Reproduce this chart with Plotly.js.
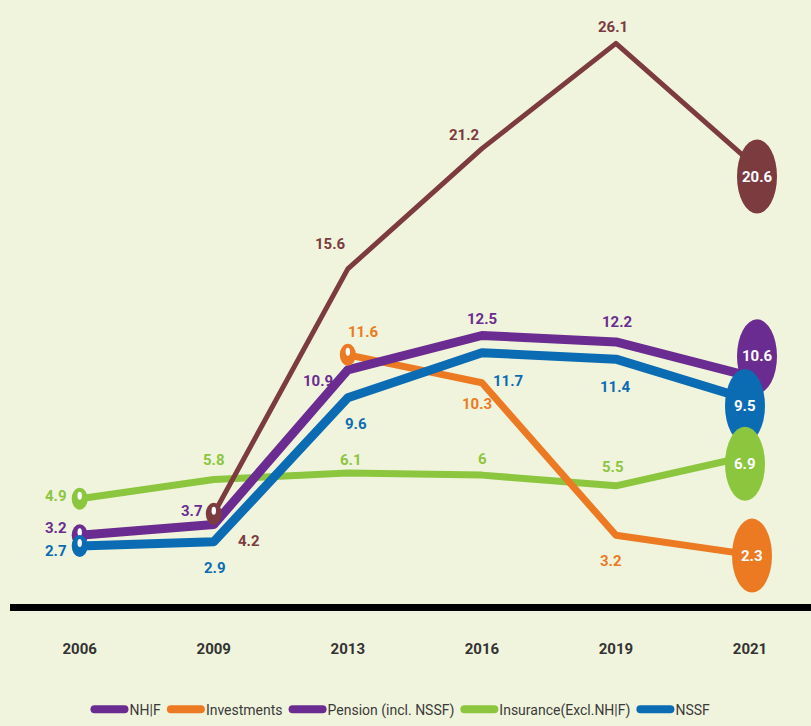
<!DOCTYPE html>
<html><head><meta charset="utf-8">
<script src="https://cdn.plot.ly/plotly-3.0.1.min.js"></script>
<style>
html,body{margin:0;padding:0;background:#f1f4dc;}
.scatterlayer path.js-line{stroke-linejoin:round;stroke-linecap:round;}
.legend path.js-line{stroke-linecap:round;}
</style>
</head><body>
<div id="chart" style="width:811px;height:726px;"></div>
<script>
// ---- data ----
const years = ['2006','2009','2013','2016','2019','2021'];
const nhif = [3.2, 3.7, 10.9, 12.5, 12.2, 10.6];
const investments = [null, null, 11.6, 10.3, 3.2, 2.3];
const pension = [null, 4.2, 15.6, 21.2, 26.1, 20.6];
const insurance = [4.9, 5.8, 6.1, 6, 5.5, 6.9];
const nssf = [2.7, 2.9, 9.6, 11.7, 11.4, 9.5];
const legendNames = ['NH|F', 'Investments', 'Pension (incl. NSSF)', 'Insurance(Excl.NH|F)', 'NSSF'];

// ---- styles ----
const C = {brown:'#7b3b3f', purple:'#6b2c91', orange:'#ec7a23', green:'#8cc63f', blue:'#0b6cb4'};
const FONT = 'Roboto, "Liberation Sans Narrow", sans-serif';

// label pixel offsets [dx, dy(down positive)] per point
const series = [
  {key:'green', vals:insurance, color:C.green, width:7,
   offs:[[-24,-3],[0,-19],[3,-13],[1,-16],[-3,-19]], end:[-5,8]},
  {key:'orange', vals:investments, color:C.orange, width:7,
   offs:[null,null,[16,-23],[-5,21],[-5,26]], end:[2,1]},
  {key:'purple', vals:nhif, color:C.purple, width:9,
   offs:[[-24,-7],[-22,-14],[-30,11],[0,-17],[2,-20]], end:[7,-20]},
  {key:'blue', vals:nssf, color:C.blue, width:9,
   offs:[[-24,5],[1,26],[8,26],[26,28],[0,28]], end:[-5,6]},
  {key:'brown', vals:pension, color:C.brown, width:5,
   offs:[null,[35,27],[-17,-25],[-17,-14],[-3,-16]], end:[7,15]}
];
const endOrder = ['purple','blue','green','orange','brown'];

const traces = [];
const annotations = [];
const shapes = [];
const startShapes = [];

series.forEach(s => {
  traces.push({
    type:'scatter', mode:'lines', x:years, y:s.vals,
    line:{color:s.color, width:s.width}, connectgaps:false,
    showlegend:false, hoverinfo:'skip'
  });
  s.vals.forEach((v, i) => {
    if (v === null || i === years.length - 1) return;
    const o = s.offs[i];
    annotations.push({x:i, y:v, xref:'x', yref:'y', text:String(v), showarrow:false,
      xshift:o[0], yshift:-o[1],
      font:{family:FONT, size:15, color:s.color, weight:'bold'}});
  });
  // start marker
  const first = s.vals.findIndex(v => v !== null);
  startShapes.push({type:'circle', xref:'x', yref:'y', xsizemode:'pixel', ysizemode:'pixel',
    xanchor:first, yanchor:s.vals[first], x0:-8, x1:8, y0:-11, y1:11,
    fillcolor:s.color, line:{width:0}, layer:'above'});
  startShapes.push({type:'circle', xref:'x', yref:'y', xsizemode:'pixel', ysizemode:'pixel',
    xanchor:first, yanchor:s.vals[first], x0:-2.2, x1:2.2, y0:-1, y1:7,
    fillcolor:'#ffffff', line:{width:0}, layer:'above'});
});

endOrder.forEach(k => {
  const s = series.find(q => q.key === k);
  const i = years.length - 1, v = s.vals[i];
  const dx = s.end[0], dy = -s.end[1];
  shapes.push({type:'circle', xref:'x', yref:'y', xsizemode:'pixel', ysizemode:'pixel',
    xanchor:i, yanchor:v, x0:dx-20, x1:dx+20, y0:dy-37, y1:dy+37,
    fillcolor:s.color, line:{width:0}, layer:'above'});
  annotations.push({x:i, y:v, xref:'x', yref:'y', text:String(v), showarrow:false,
    xshift:dx, yshift:dy, font:{family:FONT, size:15, color:'#ffffff', weight:'bold'}});
});

// legend entries
const legendColors = [C.purple, C.orange, C.purple, C.green, C.blue];
legendNames.forEach((n, k) => {
  traces.push({type:'scatter', mode:'lines', x:[null], y:[null], name:n,
    line:{color:legendColors[k], width:8}, showlegend:true, legendrank:k+1, hoverinfo:'skip'});
});

const layout = {
  width:811, height:726,
  paper_bgcolor:'#f1f4dc', plot_bgcolor:'#f1f4dc',
  margin:{l:10, r:0, t:0, b:120},
  xaxis:{type:'category', range:[-0.52, 5.455], showline:true, linecolor:'#000000', linewidth:7,
    showgrid:false, zeroline:false, ticks:'', ticklabelstandoff:25,
    tickfont:{family:FONT, size:15, color:'#333333', weight:'bold'}, fixedrange:true},
  yaxis:{range:[0, 28.12], visible:false, showgrid:false, zeroline:false, fixedrange:true},
  showlegend:true,
  legend:{orientation:'h', x:0.49, xanchor:'center', y:-0.175, yanchor:'middle',
    font:{family:FONT, size:14, color:'#3a3a3a'}, bgcolor:'rgba(0,0,0,0)', itemwidth:30,
    traceorder:'normal'},
  shapes: startShapes.concat(shapes),
  annotations: annotations
};

Plotly.newPlot('chart', traces, layout, {displayModeBar:false, staticPlot:true});
</script>
</body></html>
